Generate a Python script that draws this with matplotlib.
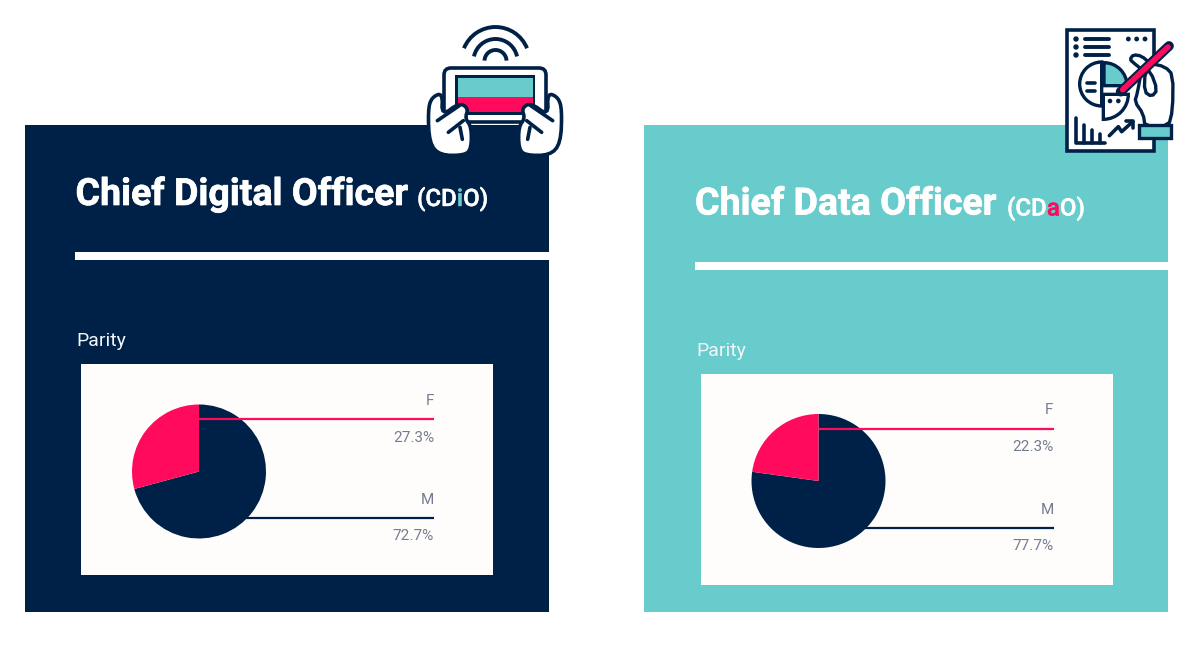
import matplotlib
matplotlib.use('Agg')
import matplotlib.pyplot as plt
from matplotlib.patches import Arc, Circle, FancyBboxPatch, Polygon, Rectangle, Wedge
import matplotlib.patheffects as pe

NAVY = '#002147'
TEAL = '#68cccc'
PINK = '#ff0a5c'
CARD = '#fffdfb'
GREY = '#747d90'

# panel content
titles = ['Chief Digital Officer', 'Chief Data Officer']
acronyms = [('(CD', 'i', 'O)'), ('(CD', 'a', 'O)')]
acronym_colors = [TEAL, PINK]
panel_colors = [NAVY, TEAL]
section_label = 'Parity'
genders = ['M', 'F']
# printed percentages
cdio_labels = [72.7, 27.3]
cdao_labels = [77.7, 22.3]
labels = [cdio_labels, cdao_labels]
# slices as drawn in the picture, they differ a little from the printed numbers
cdio_slices = [70.8, 29.2]
cdao_slices = [77.2, 22.8]
slices = [cdio_slices, cdao_slices]

fig = plt.figure(figsize=(12, 6.46), dpi=100)
ax = fig.add_axes([0, 0, 1, 1])


def rtext(x, y, s, **kw):
    return ax.text(x, y, s, family='Roboto', **kw)


def title_runs(x, y, runs, size, weight='bold', stroke=0.0):
    # lay the pieces out one after the other using measured widths
    rend = fig.canvas.get_renderer()
    for s, col in runs:
        t = rtext(x, y, s, color=col, fontsize=size, fontweight=weight, va='baseline', zorder=5)
        x += t.get_window_extent(rend).width
        if stroke:
            t.set_path_effects([pe.withStroke(linewidth=stroke, foreground=col)])
    return x


def draw_panel(i, dx, dy):
    # dx / dy: shift from the left panel
    ax.add_patch(Rectangle((25 + i * 619, 125), 524, 487, color=panel_colors[i], lw=0, zorder=1))
    title_runs(75.5 + dx, 205 + dy, [(titles[i], 'white')], 27, stroke=0.5)
    a, b, c = acronyms[i]
    title_runs(417 + (590 if i else 0), 205 + dy + 1,
               [(a, 'white'), (b, acronym_colors[i]), (c, 'white')], 17.3, weight='medium', stroke=0.3)
    ax.add_patch(Rectangle((75 + dx, 252 + dy), 474, 8, color='white', lw=0, zorder=2))
    rtext(76.5 + dx, 341 + dy, section_label, color='#f2f6f8', fontsize=14, va='center', zorder=3)
    ax.add_patch(Rectangle((81 + dx, 364 + dy), 412, 211, color=CARD, lw=0, zorder=2))

    # y axis is flipped, so a rising data angle runs clockwise on screen
    ax.pie(slices[i], colors=[NAVY, PINK], startangle=-90, radius=67,
           center=(199 + dx, 471.5 + dy), wedgeprops={'lw': 0, 'zorder': 3})

    ax.plot([199 + dx, 434 + dx], [419 + dy, 419 + dy], color=PINK, lw=1.6, zorder=4, solid_capstyle='butt')
    ax.plot([245 + dx, 434 + dx], [518 + dy, 518 + dy], color=NAVY, lw=1.6, zorder=2.5, solid_capstyle='butt')
    style = dict(color=GREY, fontsize=11, ha='right', va='center', zorder=5)
    rtext(434 + dx, 401 + dy, genders[1], **style)
    rtext(434 + dx, 437.5 + dy, '%.1f%%' % labels[i][1], **style)
    rtext(434 + dx, 500.5 + dy, genders[0], **style)
    rtext(434 + dx, 536.5 + dy, '%.1f%%' % labels[i][0], **style)


draw_panel(0, 0, 0)
draw_panel(1, 619.5, 9.5)


def smooth(pts, rounds=2):
    # corner cutting so the hand outlines come out rounded
    for _ in range(rounds):
        out = []
        for k in range(len(pts)):
            (x0, y0), (x1, y1) = pts[k], pts[(k + 1) % len(pts)]
            out.append((0.75 * x0 + 0.25 * x1, 0.75 * y0 + 0.25 * y1))
            out.append((0.25 * x0 + 0.75 * x1, 0.25 * y0 + 0.75 * y1))
        pts = out
    return pts


# tablet icon, coordinates measured from a 3x crop at (400, 10)
def tz(pts):
    return [(400 + x / 3, 10 + y / 3) for x, y in pts]


def line(pts, color=NAVY, lw=2.6, z=10):
    xs, ys = zip(*pts)
    ax.plot(xs, ys, color=color, lw=lw, zorder=z, solid_capstyle='round', solid_joinstyle='round')


for r, t1, t2 in [(34, 202, 338), (22, 192, 348), (11, 182, 358)]:
    ax.add_patch(Arc((495.5, 61), 2 * r, 2 * r, theta1=t1, theta2=t2, color=NAVY, lw=2.8, zorder=10))

ax.add_patch(FancyBboxPatch((447, 71), 96, 48, boxstyle='round,pad=3,rounding_size=7',
                            fc='white', ec=NAVY, lw=2.6, zorder=10))
ax.add_patch(Rectangle((455, 75), 80, 40, fc=NAVY, lw=0, zorder=11))
ax.add_patch(Rectangle((458, 78), 75, 19, fc=TEAL, lw=0, zorder=12))
ax.add_patch(Rectangle((458, 97), 75, 15, fc=PINK, lw=0, zorder=12))

hand = [(128, 248), (95, 262), (84, 300), (88, 400), (120, 436), (195, 436), (214, 415), (214, 350),
        (195, 325), (205, 295), (178, 278), (125, 318)]
for mirror in (False, True):
    pts = [(570 - x, y) if mirror else (x, y) for x, y in hand]
    ax.add_patch(Polygon(tz(smooth(pts)), closed=True, fc='white', ec=NAVY, lw=2.6, joinstyle='round', zorder=13))
    for seg in ([(112, 332), (178, 287)], [(145, 367), (190, 332)], [(187, 388), (180, 352)]):
        s = [(570 - x, y) if mirror else (x, y) for x, y in seg]
        line(tz(s), z=14)


# report icon, coordinates measured from a 3x crop at (1050, 15)
def rz(pts):
    return [(1050 + x / 3, 15 + y / 3) for x, y in pts]


def rp(x, y):
    return rz([(x, y)])[0]


# the hand and pen come from a tighter crop at (1100, 30)
def hz(pts):
    return [(1100 + x / 3, 30 + y / 3) for x, y in pts]


(x0, y0), (x1, y1) = rz([(52, 45), (312, 408)])
ax.add_patch(Rectangle((x0, y0), x1 - x0, y1 - y0, fc='white', ec=NAVY, lw=2.6, zorder=10))
for yy in (72, 96, 120):
    ax.add_patch(Circle(rp(78, yy), 2, color=NAVY, zorder=11))
    line(rz([(105, yy), (178, yy)]), lw=2.8, z=11)
for xx in (235, 260, 285):
    ax.add_patch(Circle(rp(xx, 72), 1.7, color=NAVY, zorder=11))

ax.add_patch(Wedge(rp(155, 207), 22, 90, 270, fc='white', ec=NAVY, lw=2.4, zorder=11))
ax.add_patch(Wedge(rp(162, 212), 23, 270, 360, fc=TEAL, ec=NAVY, lw=2.4, zorder=11))
ax.add_patch(Wedge(rp(160, 238), 25, 0, 90, fc='white', ec=NAVY, lw=2.4, zorder=11))
line(rz([(112, 205), (135, 205)]), z=12)
line(rz([(112, 228), (135, 228)]), z=12)
ax.add_patch(Circle(rp(180, 258), 1.6, color=NAVY, zorder=12))
ax.add_patch(Circle(rp(205, 258), 1.6, color=NAVY, zorder=12))

line(rz([(78, 308), (78, 385), (165, 385)]), z=11)
line(rz([(103, 330), (103, 385)]), z=11)
line(rz([(127, 345), (127, 385)]), z=11)
line(rz([(150, 358), (150, 385)]), z=11)
line(rz([(178, 362), (205, 335), (215, 350), (248, 320)]), z=11)
line(rz([(228, 318), (250, 318), (250, 338)]), z=11)

ax.add_patch(Polygon(hz(smooth([(100, 98), (125, 118), (112, 190), (104, 215), (130, 252), (135, 290),
                                (205, 290), (218, 240), (219, 135), (195, 110), (150, 100), (125, 78),
                                (100, 74), (90, 88)], rounds=1)),
                     closed=True, fc='white', ec=NAVY, lw=2.4, joinstyle='round', zorder=12))
ax.add_patch(Polygon(hz(smooth([(135, 125), (133, 185), (155, 200), (172, 180), (152, 125)], rounds=1)),
                     closed=True, fc='white', ec=NAVY, lw=2.4, zorder=13))
line(hz([(62, 185), (207, 48)]), lw=7, z=14)
line(hz([(68, 179), (204, 51)]), color=PINK, lw=4, z=15)
(x0, y0), (x1, y1) = hz([(118, 285), (212, 325)])
ax.add_patch(Rectangle((x0, y0), x1 - x0, y1 - y0, fc=TEAL, ec=NAVY, lw=2.4, zorder=13))

# pie() resets the limits, so set pixel coordinates last
ax.set_aspect('equal')
ax.set_xlim(0, 1200)
ax.set_ylim(646, 0)
ax.axis('off')

fig.savefig('out.png', dpi=100, facecolor='white')
